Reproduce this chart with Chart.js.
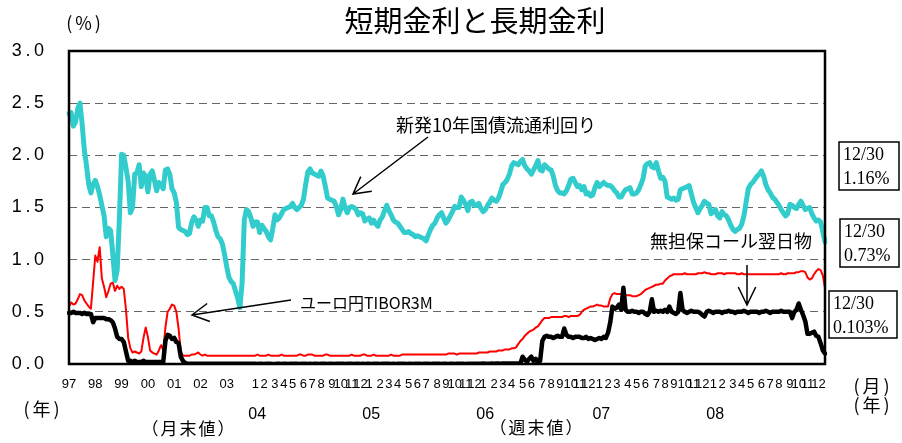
<!DOCTYPE html>
<html>
<head>
<meta charset="utf-8">
<script src="https://cdn.jsdelivr.net/npm/chart.js"></script>
<style>
  body { margin: 0; background: #fff; }
</style>
</head>
<body>
<canvas id="rateChart" width="902" height="443"></canvas>
<script>
// 月末値 (1997/1 - 2003/12)
var jgbMonthly = [
  2.40,2.41,2.28,2.32,2.45,2.50,2.30,2.05,1.90,1.72,
  1.64,1.72,1.76,1.70,1.62,1.52,1.42,1.22,1.30,1.28,
  1.05,0.80,0.90,1.40,2.01,2.00,1.88,1.75,1.45,1.50,
  1.82,1.83,1.91,1.70,1.83,1.80,1.65,1.82,1.85,1.76,
  1.66,1.74,1.72,1.68,1.86,1.87,1.82,1.68,1.64,1.55,
  1.31,1.29,1.28,1.27,1.24,1.25,1.36,1.41,1.38,1.32,
  1.38,1.37,1.50,1.50,1.42,1.42,1.36,1.28,1.22,1.20,
  1.15,1.05,0.93,0.83,0.79,0.77,0.70,0.63,0.54,0.78,
  1.38,1.48,1.46,1.40
];
var tiborMonthly = [
  0.55,0.59,0.57,0.58,0.62,0.67,0.66,0.61,0.58,0.55,
  0.53,0.78,1.04,0.98,1.12,0.82,0.74,0.64,0.70,0.77,
  0.78,0.70,0.75,0.72,0.74,0.72,0.52,0.25,0.15,0.11,
  0.12,0.11,0.10,0.12,0.25,0.35,0.26,0.13,0.11,0.10,
  0.09,0.13,0.18,0.13,0.35,0.50,0.53,0.57,0.56,0.50,
  0.34,0.12,0.08,0.08,0.08,0.08,0.09,0.09,0.10,0.11,
  0.09,0.08,0.09,0.08,0.08,0.08,0.08,0.08,0.08,0.08,
  0.08,0.08,0.08,0.08,0.08,0.08,0.08,0.08,0.08,0.08,
  0.08,0.08,0.08,0.08
];
var callMonthly = [
  0.49,0.49,0.50,0.49,0.49,0.49,0.48,0.49,0.48,0.48,
  0.48,0.40,0.44,0.44,0.44,0.44,0.44,0.43,0.43,0.42,
  0.40,0.34,0.26,0.24,0.24,0.21,0.12,0.03,0.03,0.02,
  0.03,0.02,0.02,0.02,0.03,0.02,0.02,0.02,0.02,0.02,
  0.02,0.02,0.02,0.02,0.22,0.28,0.27,0.24,0.25,0.21,
  0.20,0.07,0.03,0.01,0.002,0.002,0.002,0.002,0.002,0.002,
  0.002,0.002,0.002,0.002,0.002,0.002,0.002,0.002,0.002,0.002,
  0.002,0.002,0.002,0.002,0.002,0.002,0.002,0.002,0.002,0.002,
  0.002,0.002,0.002,0.002
];

// 週末値 (2004 - 2008/12/30)
var jgbWeekly = [
  1.32,1.36,1.36,1.26,1.33,1.30,1.27,1.22,1.19,1.30,
  1.43,1.38,1.40,1.44,1.48,1.49,1.50,1.51,1.54,1.50,
  1.48,1.50,1.52,1.58,1.72,1.84,1.87,1.83,1.82,1.81,
  1.80,1.85,1.80,1.70,1.59,1.58,1.57,1.56,1.51,1.43,
  1.48,1.58,1.50,1.45,1.50,1.51,1.50,1.48,1.43,1.45,
  1.44,1.37,1.39,1.40,1.35,1.38,1.34,1.32,1.38,1.41,
  1.47,1.52,1.47,1.43,1.38,1.36,1.35,1.32,1.29,1.26,
  1.26,1.27,1.25,1.24,1.22,1.23,1.22,1.21,1.20,1.18,
  1.24,1.29,1.33,1.35,1.40,1.43,1.45,1.40,1.35,1.38,
  1.42,1.46,1.51,1.50,1.50,1.60,1.57,1.53,1.47,1.55,
  1.56,1.52,1.52,1.54,1.49,1.46,1.48,1.52,1.55,1.59,
  1.57,1.56,1.59,1.65,1.72,1.74,1.77,1.82,1.90,1.93,
  1.92,1.91,1.94,1.96,1.90,1.87,1.85,1.82,1.86,1.90,
  1.95,1.86,1.85,1.91,1.89,1.87,1.86,1.80,1.71,1.66,
  1.64,1.64,1.63,1.66,1.71,1.77,1.78,1.74,1.70,1.71,
  1.67,1.70,1.63,1.64,1.61,1.62,1.69,1.74,1.70,1.72,
  1.74,1.72,1.71,1.71,1.69,1.66,1.64,1.60,1.60,1.64,
  1.67,1.68,1.69,1.63,1.63,1.64,1.67,1.72,1.78,1.90,
  1.92,1.93,1.89,1.88,1.93,1.85,1.78,1.79,1.75,1.60,
  1.59,1.58,1.59,1.57,1.58,1.67,1.68,1.69,1.70,1.71,
  1.63,1.55,1.50,1.45,1.49,1.52,1.56,1.54,1.53,1.44,
  1.46,1.48,1.42,1.40,1.46,1.43,1.42,1.38,1.33,1.29,
  1.27,1.29,1.30,1.34,1.42,1.55,1.68,1.72,1.74,1.77,
  1.80,1.82,1.85,1.80,1.72,1.67,1.64,1.60,1.58,1.55,
  1.52,1.48,1.45,1.42,1.44,1.53,1.52,1.50,1.49,1.53,
  1.56,1.52,1.48,1.49,1.50,1.44,1.40,1.37,1.38,1.36,
  1.27,1.17
];
var tiborWeekly = [
  0.08,0.08,0.09,0.08,0.08,0.08,0.08,0.09,0.08,0.08,
  0.08,0.08,0.08,0.09,0.08,0.08,0.08,0.08,0.08,0.08,
  0.08,0.09,0.09,0.08,0.08,0.09,0.09,0.09,0.08,0.08,
  0.08,0.08,0.08,0.09,0.09,0.08,0.08,0.08,0.08,0.08,
  0.08,0.08,0.08,0.08,0.08,0.09,0.08,0.08,0.08,0.08,
  0.09,0.09,0.08,0.08,0.08,0.09,0.08,0.08,0.08,0.08,
  0.08,0.08,0.08,0.09,0.08,0.08,0.08,0.08,0.09,0.09,
  0.09,0.09,0.09,0.09,0.09,0.09,0.09,0.09,0.09,0.09,
  0.09,0.09,0.09,0.09,0.09,0.09,0.09,0.09,0.09,0.10,
  0.10,0.10,0.10,0.09,0.10,0.10,0.10,0.10,0.10,0.10,
  0.10,0.10,0.10,0.11,0.11,0.11,0.11,0.11,0.12,0.12,
  0.12,0.12,0.13,0.13,0.13,0.14,0.14,0.14,0.15,0.15,
  0.16,0.19,0.22,0.24,0.27,0.29,0.31,0.32,0.33,0.35,
  0.36,0.39,0.42,0.44,0.44,0.44,0.45,0.45,0.45,0.45,
  0.45,0.45,0.46,0.46,0.45,0.46,0.46,0.46,0.46,0.47,
  0.50,0.52,0.53,0.54,0.55,0.55,0.56,0.57,0.56,0.56,
  0.55,0.55,0.55,0.63,0.67,0.68,0.67,0.67,0.67,0.67,
  0.66,0.66,0.66,0.65,0.65,0.65,0.66,0.67,0.69,0.71,
  0.72,0.73,0.74,0.75,0.76,0.76,0.77,0.77,0.80,0.82,
  0.84,0.85,0.86,0.86,0.86,0.86,0.86,0.87,0.86,0.86,
  0.86,0.86,0.86,0.87,0.87,0.87,0.88,0.87,0.87,0.86,
  0.86,0.86,0.87,0.87,0.87,0.86,0.87,0.87,0.87,0.87,
  0.87,0.86,0.86,0.87,0.86,0.86,0.86,0.86,0.86,0.86,
  0.86,0.86,0.86,0.86,0.86,0.86,0.86,0.86,0.86,0.86,
  0.86,0.87,0.86,0.86,0.87,0.87,0.87,0.87,0.88,0.88,
  0.89,0.89,0.88,0.83,0.81,0.82,0.86,0.89,0.91,0.90,
  0.85,0.73
];
var callWeekly = [
  0.002,0.002,0.001,0.002,0.002,0.001,0.002,0.002,0.002,0.001,
  0.001,0.002,0.002,0.001,0.002,0.002,0.001,0.002,0.002,0.002,
  0.002,0.001,0.002,0.002,0.002,0.001,0.002,0.001,0.002,0.002,
  0.001,0.002,0.002,0.002,0.001,0.002,0.002,0.001,0.002,0.002,
  0.002,0.002,0.001,0.002,0.002,0.002,0.001,0.002,0.002,0.001,
  0.002,0.001,0.002,0.002,0.001,0.002,0.002,0.002,0.001,0.002,
  0.002,0.002,0.002,0.001,0.002,0.001,0.002,0.002,0.002,0.002,
  0.001,0.002,0.002,0.001,0.002,0.002,0.002,0.001,0.002,0.002,
  0.002,0.001,0.002,0.002,0.002,0.002,0.001,0.002,0.002,0.001,
  0.002,0.002,0.001,0.002,0.002,0.002,0.002,0.001,0.002,0.002,
  0.003,0.002,0.002,0.003,0.002,0.004,0.003,0.002,0.003,0.004,
  0.003,0.005,0.004,0.003,0.006,0.004,0.005,0.004,0.006,0.005,
  0.004,0.006,0.005,
  0.07,0.04,0.02,0.05,0.07,0.03,0.05,0.01,0.03,0.22,
  0.26,0.27,0.26,0.26,0.25,0.26,0.27,0.26,0.26,0.34,
  0.28,0.26,0.26,0.25,0.26,0.26,0.26,0.25,0.25,0.26,
  0.24,0.25,0.24,0.23,0.24,0.25,0.24,0.26,0.25,0.30,
  0.40,0.55,0.53,0.54,0.57,0.52,0.73,0.52,0.50,0.50,
  0.51,0.50,0.50,0.49,0.50,0.50,0.48,0.47,0.50,0.62,
  0.50,0.51,0.50,0.51,0.50,0.52,0.50,0.55,0.50,0.49,
  0.48,0.50,0.68,0.52,0.50,0.49,0.50,0.51,0.50,0.50,
  0.50,0.49,0.47,0.455,0.50,0.51,0.50,0.49,0.50,0.50,
  0.50,0.49,0.50,0.50,0.51,0.50,0.50,0.49,0.50,0.50,
  0.50,0.51,0.50,0.49,0.50,0.50,0.50,0.50,0.49,0.50,
  0.50,0.51,0.50,0.49,0.50,0.50,0.50,0.50,0.51,0.50,
  0.50,0.50,0.50,0.44,0.50,0.52,0.58,0.52,0.47,0.41,
  0.29,0.29,0.30,0.31,0.27,0.26,0.20,0.13,0.10
];

// 目盛ラベル
var annualTicks = ["97","98","99","00","01","02","03"];
var monthTicks = ["1","2","3","4","5","6","7","8","9","10","11","12"];
var weekYears = ["04","05","06","07","08"];
var lastValues = ["1.16%","0.73%","0.103%"];

var nMonthly = jgbMonthly.length;
var nWeekly = jgbWeekly.length;
var weeksPerYear = 52.2;

// x軸のラベル(空文字は目盛なし)
var tickText = [];
for (var i = 0; i < nMonthly; i++) {
  tickText.push(i % 12 === 0 ? annualTicks[i / 12] : "");
}
for (var k = 0; k < nWeekly; k++) tickText.push("");
weekYears.forEach(function (yy, y) {
  monthTicks.forEach(function (m, j) {
    var k = Math.round(y * weeksPerYear + j * 4.35) + 1;
    if (k < nWeekly) tickText[nMonthly + k] = m;
  });
});

var data = {
  labels: tickText.map(function (t, i) { return "p" + i; }),
  datasets: [
    {
      label: "新発10年国債流通利回り",
      data: jgbMonthly.concat(jgbWeekly),
      borderColor: "rgb(51, 204, 204)",
      borderWidth: 5,
    },
    {
      label: "無担保コール翌日物",
      data: callMonthly.concat(callWeekly),
      borderColor: "#000",
      borderWidth: 4.5,
    },
    {
      label: "ユーロ円TIBOR3M",
      data: tiborMonthly.concat(tiborWeekly),
      borderColor: "#ff0000",
      borderWidth: 2,
    },
  ]
};

function arrow(ctx, x1, y1, x2, y2, len, ang) {
  var a = Math.atan2(y2 - y1, x2 - x1);
  ctx.beginPath();
  ctx.moveTo(x1, y1);
  ctx.lineTo(x2, y2);
  ctx.moveTo(x2 - len * Math.cos(a - ang), y2 - len * Math.sin(a - ang));
  ctx.lineTo(x2, y2);
  ctx.lineTo(x2 - len * Math.cos(a + ang), y2 - len * Math.sin(a + ang));
  ctx.stroke();
}

var extras = {
  id: "extras",
  afterDraw: function (chart) {
    var ctx = chart.ctx, a = chart.chartArea, xs = chart.scales.x;
    var jp = "'Noto Sans CJK JP', sans-serif";
    ctx.save();

    // 枠
    ctx.strokeStyle = "#000";
    ctx.lineWidth = 2.5;
    ctx.strokeRect(a.left, a.top, a.right - a.left, a.bottom - a.top);

    ctx.fillStyle = "#000";
    ctx.textBaseline = "middle";
    ctx.textAlign = "center";

    ctx.font = "29px " + jp;
    ctx.fillText("短期金利と長期金利", 475, 21);

    ctx.font = "18px " + jp;
    ctx.letterSpacing = "3px";
    ctx.fillText("(%)", 85, 23);
    ctx.fillText("(年)", 43, 409);
    ctx.fillText("(月)", 873, 386);
    ctx.fillText("(年)", 873, 405);
    ctx.font = "17px " + jp;
    ctx.letterSpacing = "2px";
    ctx.fillText("（月末値）", 189, 429);
    ctx.fillText("（週末値）", 537, 428);
    ctx.letterSpacing = "0px";

    // 年ラベル(週次部分)
    ctx.font = "16px 'Liberation Sans', Arial, sans-serif";
    weekYears.forEach(function (yy, y) {
      var px = xs.getPixelForValue(nMonthly + Math.round(y * weeksPerYear) + 1);
      ctx.fillText(yy, px + 2, 415);
    });

    // 系列名と矢印
    ctx.font = "18px " + jp;
    ctx.textAlign = "left";
    ctx.fillText("新発10年国債流通利回り", 396, 125);
    ctx.fillText("無担保コール翌日物", 650, 241);
    ctx.font = "16px " + jp;
    ctx.fillText("ユーロ円TIBOR3M", 300, 303);

    ctx.lineWidth = 1.5;
    arrow(ctx, 428, 137, 353, 194, 19, 0.5);
    arrow(ctx, 291, 300, 192, 315, 19, 0.5);
    arrow(ctx, 747, 265, 747, 305, 20, 0.45);

    // 最終値ボックス
    var boxes = [[839, 142, 60, 48], [840, 219, 59, 48], [829, 291, 68, 47]];
    ctx.font = "18px 'Liberation Serif', 'Times New Roman', serif";
    ctx.lineWidth = 1.5;
    boxes.forEach(function (b, i) {
      ctx.strokeRect(b[0], b[1], b[2], b[3]);
      ctx.fillText("12/30", b[0] + 4, b[1] + 13);
      ctx.fillText(lastValues[i], b[0] + 4, b[1] + 37);
    });
    ctx.restore();
  }
};

var config = {
  type: "line",
  data: data,
  options: {
    responsive: false,
    animation: false,
    layout: { padding: { top: 51, right: 77, bottom: 0, left: 0 } },
    elements: {
      point: { radius: 0 },
      line: { tension: 0, borderJoinStyle: "round", borderCapStyle: "round" }
    },
    plugins: { legend: { display: false }, tooltip: { enabled: false } },
    scales: {
      x: {
        grid: { display: false, drawTicks: false },
        border: { display: false },
        afterFit: function (s) { s.height = 79; },
        ticks: {
          autoSkip: false,
          maxRotation: 0,
          minRotation: 0,
          padding: 13,
          color: "#000",
          font: { family: "'Liberation Sans', Arial, sans-serif", size: 13 },
          callback: function (v) { return tickText[v]; }
        }
      },
      y: {
        min: 0,
        max: 3,
        grid: { color: "#666", lineWidth: 1, drawTicks: false },
        border: { display: false, dash: [8, 5] },
        afterFit: function (s) { s.width = 69; },
        ticks: {
          stepSize: 0.5,
          padding: 25,
          color: "#000",
          font: { family: "'Liberation Sans', Arial, sans-serif", size: 18 },
          callback: function (v) { return v.toFixed(1).split("").join("\u2009"); }
        }
      }
    }
  },
  plugins: [extras]
};

var rateChart = new Chart(document.getElementById("rateChart"), config);
</script>
</body>
</html>
